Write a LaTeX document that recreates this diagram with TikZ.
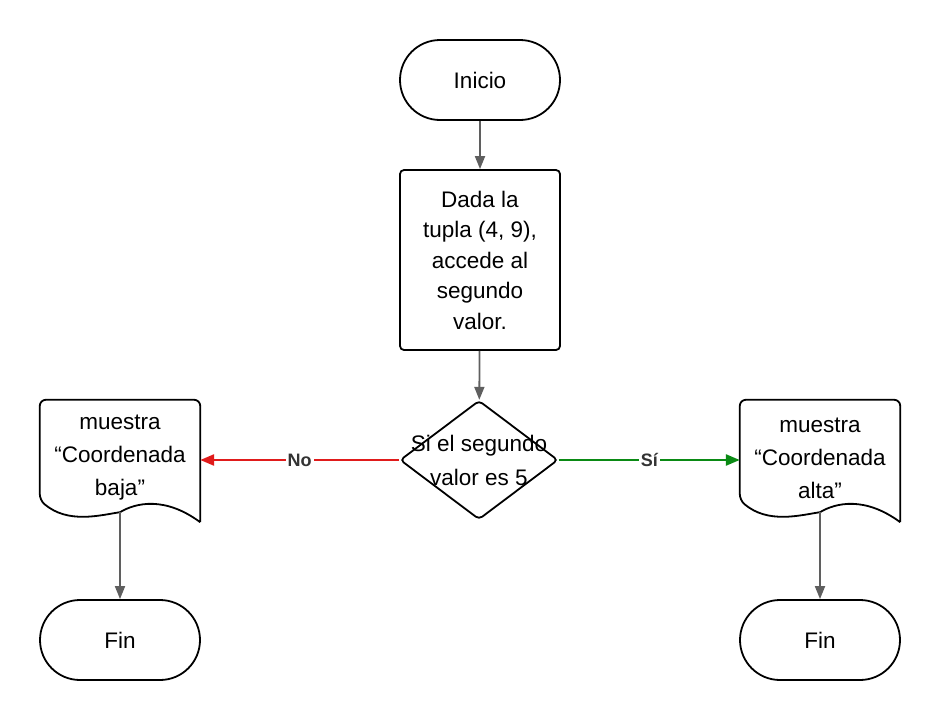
\documentclass[tikz,border=0pt]{standalone}
\usepackage{fontspec}
\setmainfont{Liberation Sans}
\usetikzlibrary{arrows.meta,shapes.geometric}
\definecolor{linegray}{HTML}{5F5F5F}
\definecolor{noRed}{HTML}{E01B1B}
\definecolor{siGreen}{HTML}{0A8A14}
\definecolor{labelgray}{HTML}{333333}
\tikzset{
    terminal/.style={draw,line width=1.8pt,rectangle,rounded corners=40pt,minimum width=160pt,minimum height=80pt,font=\fontsize{22.5}{31}\selectfont},
    process/.style={draw,line width=1.8pt,rectangle,rounded corners=4pt,minimum width=160pt,minimum height=180pt,align=center,font=\fontsize{22.5}{30.5}\selectfont},
    decision/.style={draw,line width=1.8pt,diamond,rounded corners=4pt,minimum width=158pt,minimum height=119pt,inner sep=0pt},
    doctext/.style={rectangle,minimum width=160pt,minimum height=116pt,inner sep=0pt,align=center,font=\fontsize{22.5}{33}\selectfont},
    txt/.style={align=center,font=\fontsize{22.5}{34}\selectfont},
    flow/.style={-{Triangle[length=13pt,width=10pt]},line width=1.8pt,linegray},
    branch/.style={-{Triangle[length=14pt,width=11pt]},line width=2.5pt},
    tag/.style={fill=white,inner sep=2pt,text=labelgray,font=\fontsize{18}{20}\selectfont\bfseries}
}
% outline of a document shape round a doctext node
\newcommand\docoutline[1]{
    \draw[line width=1.8pt,rounded corners=6pt]
        ([yshift=-6pt]#1.south east) -- (#1.north east) -- (#1.north west) -- ([yshift=16pt]#1.south west)
        [sharp corners] .. controls ([shift={(-52pt,-8pt)}]#1.south) and ([shift={(-20pt,1pt)}]#1.south) .. ([yshift=4pt]#1.south)
        .. controls ([shift={(16pt,13.6pt)}]#1.south) and ([shift={(45pt,20pt)}]#1.south) .. ([yshift=-6pt]#1.south east);
}
\begin{document}
\begin{tikzpicture}[x=1pt,y=-1pt]
    \useasboundingbox (0,0) rectangle (940,720);

    \node (inicio) at (480,80) [terminal] {Inicio};
    \node (dada) at (480,260) [process] {Dada la\\tupla (4, 9),\\accede al\\segundo\\valor.};
    \node (cond) at (479,460) [decision, label={[txt]center:Si el segundo\\valor es 5}] {};

    \node (bajo) at (120,458) [doctext] {muestra\\“Coordenada\\baja”};
    \node (alto) at (820,458) [doctext] {muestra\\“Coordenada\\alta”};
    \docoutline{bajo}
    \docoutline{alto}

    \node (finB) at (120,640) [terminal] {Fin};
    \node (finA) at (820,640) [terminal] {Fin};

    \draw[flow] (inicio) -- (dada);
    \draw[flow] (dada) -- (cond);
    \draw[branch,noRed] (cond.west) -- (cond.west -| bajo.east) node[midway,tag] {No};
    \draw[branch,siGreen] (cond.east) -- (cond.east -| alto.west) node[midway,tag] {Sí};
    \draw[flow] ([yshift=4pt]bajo.south) -- (finB);
    \draw[flow] ([yshift=4pt]alto.south) -- (finA);
\end{tikzpicture}
\end{document}
